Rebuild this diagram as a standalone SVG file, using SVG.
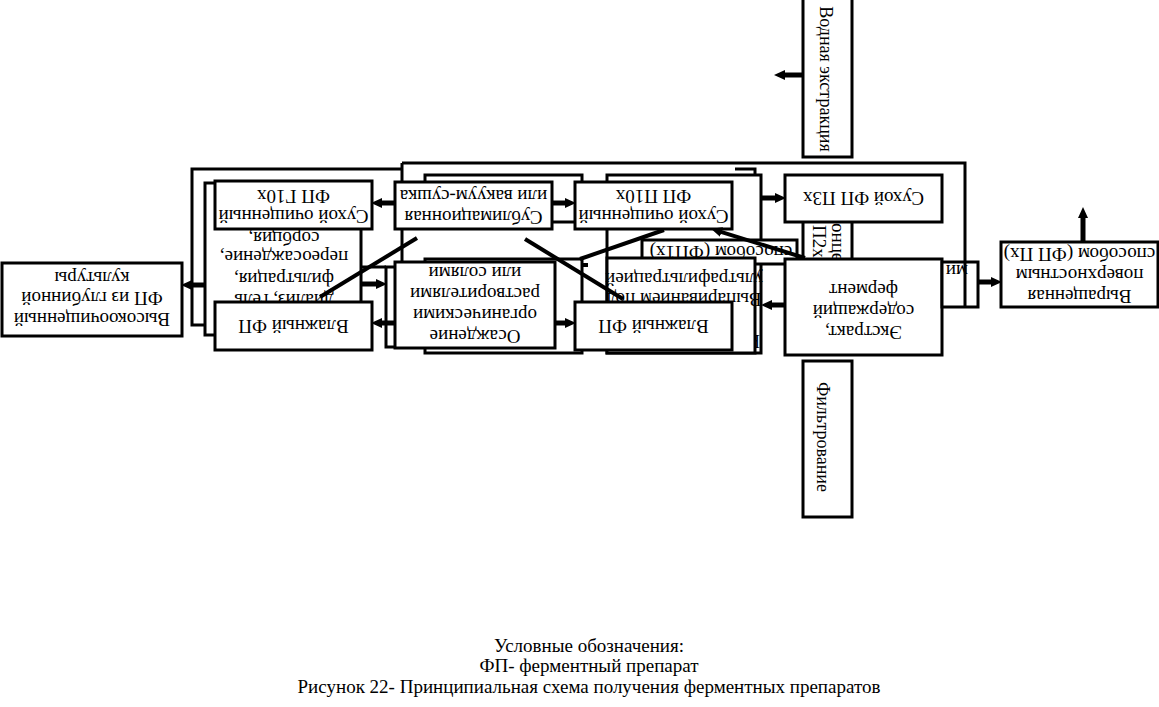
<svg xmlns="http://www.w3.org/2000/svg" width="1159" height="707" viewBox="0 0 1159 707">
<style>
.bx{fill:#fff;stroke:#000;stroke-width:3}
.fr{fill:none;stroke:#000;stroke-width:3}
.ar{stroke:#000;stroke-width:5;fill:none;marker-end:url(#ah)}
.dg{stroke:#000;stroke-width:4;fill:none}
text{font-family:"Liberation Serif","Times New Roman",serif;font-size:19px;fill:#000}
.c{text-anchor:middle}
.v{font-size:18px}
</style>
<defs>
<marker id="ah" markerWidth="12" markerHeight="10" refX="4" refY="5" orient="auto" markerUnits="userSpaceOnUse"><path d="M0,0 L11,5 L0,10 z" fill="#000"/></marker>
</defs>
<rect width="1159" height="707" fill="#fff"/>

<g id="frames">
<polyline class="fr" points="215,325 192,325 192,169 402,169"/>
<line class="fr" x1="402" y1="163" x2="402" y2="262"/>
<polyline class="fr" points="402,163 965,163 965,307"/>
<polyline class="fr" points="732,325 755,325 755,169 735,169"/>
<line class="fr" x1="735" y1="175" x2="735" y2="193"/>
</g>

<g id="back-boxes">
<g id="gel"><rect class="bx" x="205" y="183" width="156" height="152"/>
<text class="c" transform="rotate(180 284 294)" x="284" y="294">диализ, гель</text>
<text class="c" transform="rotate(180 284 273)" x="284" y="273">фильтрация,</text>
<text class="c" transform="rotate(180 284 251)" x="284" y="251">переосаждение,</text>
<text class="c" transform="rotate(180 284 232)" x="284" y="232">сорбция,</text></g>
<line class="fr" x1="361" y1="267" x2="386" y2="267"/>
<rect id="ibox" class="bx" x="386" y="267" width="34" height="80"/>
<rect id="s1" class="bx" x="425" y="175" width="157" height="47"/>
<rect id="s2" class="bx" x="425" y="259" width="157" height="94"/>
<g id="k"><rect class="bx" x="607" y="175" width="154" height="178"/>
<text transform="rotate(180 760 335)" x="760" y="335">Ко</text></g>
<g id="sposob"><rect class="bx" x="642" y="240" width="155" height="24"/>
<text class="c" transform="rotate(180 721 246)" x="721" y="246">способом (ФП1х)</text></g>
<g id="ultra"><rect class="bx" x="607" y="258" width="148" height="95"/>
<text class="c" transform="rotate(180 684 293)" x="684" y="293">Выпариванием под</text>
<text class="c" transform="rotate(180 684 273)" x="684" y="273">ультрафильтрацией</text></g>
<g id="p2x"><rect class="bx" x="803" y="215" width="49" height="50"/>
<text transform="rotate(90 832 223)" x="832" y="223">онце</text>
<text transform="rotate(90 813 225)" x="813" y="225">П2х</text></g>
</g>

<g id="nodes">
<g id="n-vysoko"><rect class="bx" x="2" y="263" width="180" height="73"/>
<text class="c" transform="rotate(180 92 313)" x="92" y="313">Высокоочищенный</text>
<text class="c" transform="rotate(180 92 292)" x="92" y="292">ФП из глубинной</text>
<text class="c" transform="rotate(180 92 272)" x="92" y="272">культуры</text></g>

<g id="n-g10"><rect class="bx" x="215" y="181" width="157" height="48"/>
<text class="c" transform="rotate(180 293.5 210)" x="293.5" y="210">Сухой очищенный</text>
<text class="c" transform="rotate(180 293.5 190)" x="293.5" y="190">ФП Г10х</text></g>

<g id="n-vl1"><rect class="bx" x="215" y="302" width="157" height="48"/>
<text class="c" transform="rotate(180 293.5 320)" x="293.5" y="320">Влажный ФП</text></g>

<g id="n-sub"><rect class="bx" x="395" y="182" width="157" height="47"/>
<text class="c" transform="rotate(180 473.5 211)" x="473.5" y="211">Сублимационная</text>
<text class="c" transform="rotate(180 473.5 190)" x="473.5" y="190">или вакуум-сушка</text></g>

<g id="n-osazh"><rect class="bx" x="395" y="262" width="160" height="86"/>
<text class="c" transform="rotate(180 475 330)" x="475" y="330">Осаждение</text>
<text class="c" transform="rotate(180 475 309)" x="475" y="309">органическими</text>
<text class="c" transform="rotate(180 475 288)" x="475" y="288">растворителями</text>
<text class="c" transform="rotate(180 475 267)" x="475" y="267">или солями</text></g>

<g id="n-p10"><rect class="bx" x="575" y="182" width="157" height="47"/>
<text class="c" transform="rotate(180 653.5 210)" x="653.5" y="210">Сухой очищенный</text>
<text class="c" transform="rotate(180 653.5 190)" x="653.5" y="190">ФП П10х</text></g>

<g id="n-vl2"><rect class="bx" x="575" y="302" width="157" height="48"/>
<text class="c" transform="rotate(180 653.5 320)" x="653.5" y="320">Влажный ФП</text></g>

<g id="n-voda"><rect class="bx" x="803" y="-5" width="49" height="162"/>
<text class="c v" transform="rotate(90 820 79)" x="820" y="79">Водная экстракция</text></g>

<g id="n-p3"><rect class="bx" x="785" y="175" width="157" height="47"/>
<text class="c" transform="rotate(180 863.5 192)" x="863.5" y="192">Сухой ФП П3х</text></g>

<g id="n-ekstr"><rect class="bx" x="785" y="259" width="157" height="96"/>
<text class="c" transform="rotate(180 863.5 326)" x="863.5" y="326">Экстракт,</text>
<text class="c" transform="rotate(180 863.5 305)" x="863.5" y="305">содержащий</text>
<text class="c" transform="rotate(180 863.5 284)" x="863.5" y="284">фермент</text></g>

<g id="n-mi"><rect class="bx" x="942" y="262" width="36" height="45"/>
<text class="c" transform="rotate(180 957 265)" x="957" y="265">ми</text></g>

<g id="n-filtr"><rect class="bx" x="803" y="361" width="49" height="156"/>
<text class="c v" transform="rotate(90 817 437)" x="817" y="437">Фильтрование</text></g>

<g id="n-vyrash"><rect class="bx" x="1001" y="242" width="157" height="65"/>
<text class="c" transform="rotate(180 1079.5 290)" x="1079.5" y="290">Выращенная</text>
<text class="c" transform="rotate(180 1079.5 269)" x="1079.5" y="269">поверхностным</text>
<text class="c" transform="rotate(180 1079.5 248)" x="1079.5" y="248">способом (ФП Пх)</text></g>
</g>

<line class="fr" x1="965" y1="262" x2="965" y2="307"/>

<g id="connectors">
<line class="ar" x1="395" y1="203" x2="378" y2="203"/>
<line class="ar" x1="395" y1="323" x2="378" y2="323"/>
<line class="ar" x1="205" y1="285" x2="188" y2="285"/>
<line class="ar" x1="362" y1="284" x2="380" y2="284"/>
<line class="ar" x1="552" y1="203" x2="569" y2="203"/>
<line class="ar" x1="555" y1="323" x2="569" y2="323"/>
<line class="ar" x1="762" y1="198" x2="779" y2="198"/>
<line class="ar" x1="785" y1="305" x2="768" y2="305"/>
<line class="ar" x1="978" y1="282" x2="995" y2="282"/>
<line class="ar" x1="1083" y1="242" x2="1083" y2="214"/>
<line class="ar" x1="803" y1="75" x2="781" y2="75"/>
<line class="ar" x1="805" y1="258" x2="717.7" y2="230.8" style="stroke-width:4"/>
<line class="dg" x1="320" y1="297" x2="417" y2="238"/>
<line class="dg" x1="525" y1="239" x2="623" y2="299"/>
<line class="dg" x1="580" y1="259" x2="664" y2="230"/>
<rect x="582" y="263" width="6" height="4" fill="#000"/>
</g>

<g id="caption">
<text class="c" x="589" y="652">Условные обозначения:</text>
<text class="c" x="589" y="672">ФП- ферментный препарат</text>
<text class="c" x="589" y="693">Рисунок 22- Принципиальная схема получения ферментных препаратов</text>
</g>
</svg>
